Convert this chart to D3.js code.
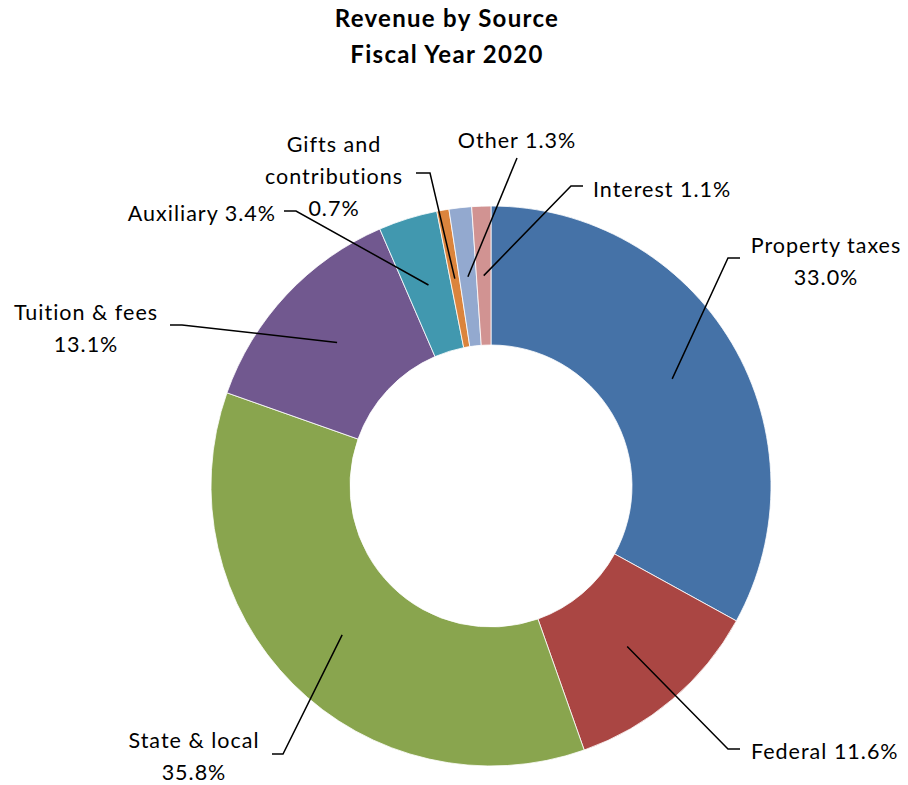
<!DOCTYPE html>
<html>
<head>
<meta charset="utf-8">
<script src="https://cdn.jsdelivr.net/npm/d3@7"></script>
<style>
  body { margin: 0; background: #fff; }
  text { font-family: Lato, "Noto Sans", sans-serif; fill: #000; }
</style>
</head>
<body>
<div class="chart"></div>
<script>
var svgWidth = 908;
var svgHeight = 785;

// data
var sources = ["Property taxes", "Federal", "State & local", "Tuition & fees",
  "Auxiliary", "Gifts and contributions", "Other", "Interest"];
var shares = [33.0, 11.6, 35.8, 13.1, 3.4, 0.7, 1.3, 1.1];
var colors = ["#4572A7", "#AA4643", "#89A54E", "#71588F",
  "#4198AF", "#DB843D", "#93A9CF", "#D19392"];

// label placement (text lines, anchor point, elbow of leader line)
var labelLayout = [
  { lines: ["Property taxes", "33.0%"], x: 826, y: 253, anchor: "middle", elbow: [[740, 258], [728, 258]] },
  { lines: ["Federal 11.6%"], x: 751, y: 759, anchor: "start", elbow: [[740, 749], [728, 749]] },
  { lines: ["State & local", "35.8%"], x: 194, y: 748, anchor: "middle", elbow: [[272, 754], [283, 754]] },
  { lines: ["Tuition & fees", "13.1%"], x: 86, y: 320, anchor: "middle", elbow: [[170, 325], [182, 325]] },
  { lines: ["Auxiliary 3.4%"], x: 276, y: 221, anchor: "end", elbow: [[284, 211], [296, 211]] },
  { lines: ["Gifts and", "contributions", "0.7%"], x: 334, y: 152, anchor: "middle", elbow: [[416, 173], [430, 173]] },
  { lines: ["Other 1.3%"], x: 517, y: 148, anchor: "middle", elbow: [[517, 158]] },
  { lines: ["Interest 1.1%"], x: 593, y: 197, anchor: "start", elbow: [[583, 186], [571, 186]] }
];

var cx = 491, cy = 486;
var outerR = 280, innerR = 141;

var svg = d3.select(".chart")
  .append("svg")
  .attr("width", svgWidth)
  .attr("height", svgHeight);

// title
var title = svg.append("text")
  .attr("text-anchor", "middle")
  .style("font-weight", "bold")
  .style("font-size", "24px")
  .style("letter-spacing", "1.3px");
title.append("tspan").attr("x", 447).attr("y", 27).text("Revenue by Source");
title.append("tspan").attr("x", 447).attr("y", 63).text("Fiscal Year 2020");

var pie = d3.pie().sort(null).value(d => d);
var arcs = pie(shares);

var arc = d3.arc().innerRadius(innerR).outerRadius(outerR);

var chartGroup = svg.append("g")
  .attr("transform", `translate(${cx}, ${cy})`);

chartGroup.selectAll("path")
  .data(arcs)
  .enter()
  .append("path")
  .attr("d", arc)
  .attr("fill", (d, i) => colors[i])
  .attr("stroke", "#fff")
  .attr("stroke-width", 0.8);

// leader lines, from the slice centroid out to the label
var line = d3.line();
svg.selectAll("path.leader")
  .data(arcs)
  .enter()
  .append("path")
  .attr("class", "leader")
  .attr("fill", "none")
  .attr("stroke", "#000")
  .attr("stroke-width", 1.5)
  .attr("d", function (d, i) {
    var c = arc.centroid(d);
    var pts = labelLayout[i].elbow.slice();
    pts.push([cx + c[0], cy + c[1]]);
    return line(pts);
  });

// labels
labelLayout.forEach(function (lab) {
  var t = svg.append("text")
    .attr("text-anchor", lab.anchor)
    .style("font-size", "21.5px")
    .style("letter-spacing", "1px");
  lab.lines.forEach(function (s, j) {
    t.append("tspan")
      .attr("x", lab.x)
      .attr("y", lab.y + j * 32)
      .text(s);
  });
});
</script>
</body>
</html>
